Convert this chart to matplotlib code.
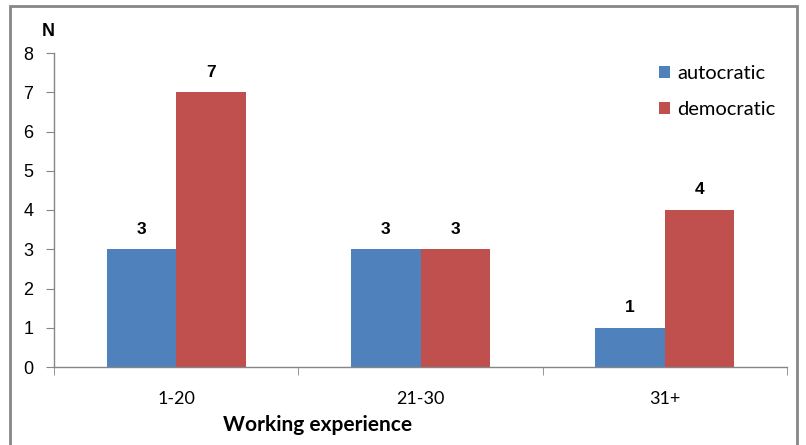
import matplotlib
matplotlib.use("Agg")
import matplotlib.pyplot as plt
import numpy as np
from matplotlib.patches import Rectangle

categories = ["1-20", "21-30", "31+"]
autocratic = [3, 3, 1]
democratic = [7, 3, 4]
series_names = ["autocratic", "democratic"]
colors = ["#4F81BD", "#C0504D"]
yticks = [0, 1, 2, 3, 4, 5, 6, 7, 8]

W, H = 806, 445
fig = plt.figure(figsize=(W / 100, H / 100), dpi=100)
fig.patches.append(Rectangle((10 / W, -0.01), (797 - 10) / W, 1.01 - 6 / H + 0.0,
                             transform=fig.transFigure, fill=False,
                             edgecolor="#868686", linewidth=2))

ax = fig.add_axes([54 / W, 1 - 367 / H, (787 - 54) / W, (367 - 53) / H])
x = np.arange(len(categories))
bw = 0.285
b1 = ax.bar(x - bw / 2, autocratic, bw, color=colors[0], label=series_names[0])
b2 = ax.bar(x + bw / 2, democratic, bw, color=colors[1], label=series_names[1])

for bars, vals in ((b1, autocratic), (b2, democratic)):
    for r, v in zip(bars, vals):
        ax.annotate(str(v), (r.get_x() + r.get_width() / 2, v), xytext=(0, 9),
                    textcoords="offset points", ha="center", va="bottom",
                    fontsize=12.5, fontweight="bold", family="Liberation Sans")

ax.set_xlim(-0.5, 2.5)
ax.set_ylim(0, 8)
ax.set_yticks(yticks)
ax.set_yticklabels([str(t) for t in yticks], family="Liberation Sans", fontsize=13)
ax.set_xticks(x)
ax.set_xticklabels(categories, family="Lato", fontsize=13)
ax.set_xticks([-0.5, 0.5, 1.5, 2.5], minor=True)
ax.tick_params(axis="x", which="major", length=0, pad=17)
ax.tick_params(axis="x", which="minor", length=6, color="#868686")
ax.tick_params(axis="y", length=6, color="#868686", pad=9)
for s in ("top", "right"):
    ax.spines[s].set_visible(False)
for s in ("left", "bottom"):
    ax.spines[s].set_color("#868686")
    ax.spines[s].set_linewidth(1)

ax.set_xlabel("Working experience", family="Lato", fontsize=15, fontweight="bold")
ax.xaxis.set_label_coords((318 - 54) / (787 - 54), -48 / (367 - 53))
fig.text(48 / W, 1 - 31 / H, "N", family="Liberation Sans", fontweight="bold",
         fontsize=13, ha="center", va="center")

leg = ax.legend(loc="upper left", bbox_to_anchor=(655 / W, 1 - 61 / H),
                bbox_transform=fig.transFigure, frameon=False, borderaxespad=0,
                borderpad=0.2,
                prop={"family": "Lato", "size": 14.5}, handlelength=0.55, handleheight=0.55,
                handletextpad=0.35, labelspacing=0.95)

fig.savefig("out.png", dpi=100)
